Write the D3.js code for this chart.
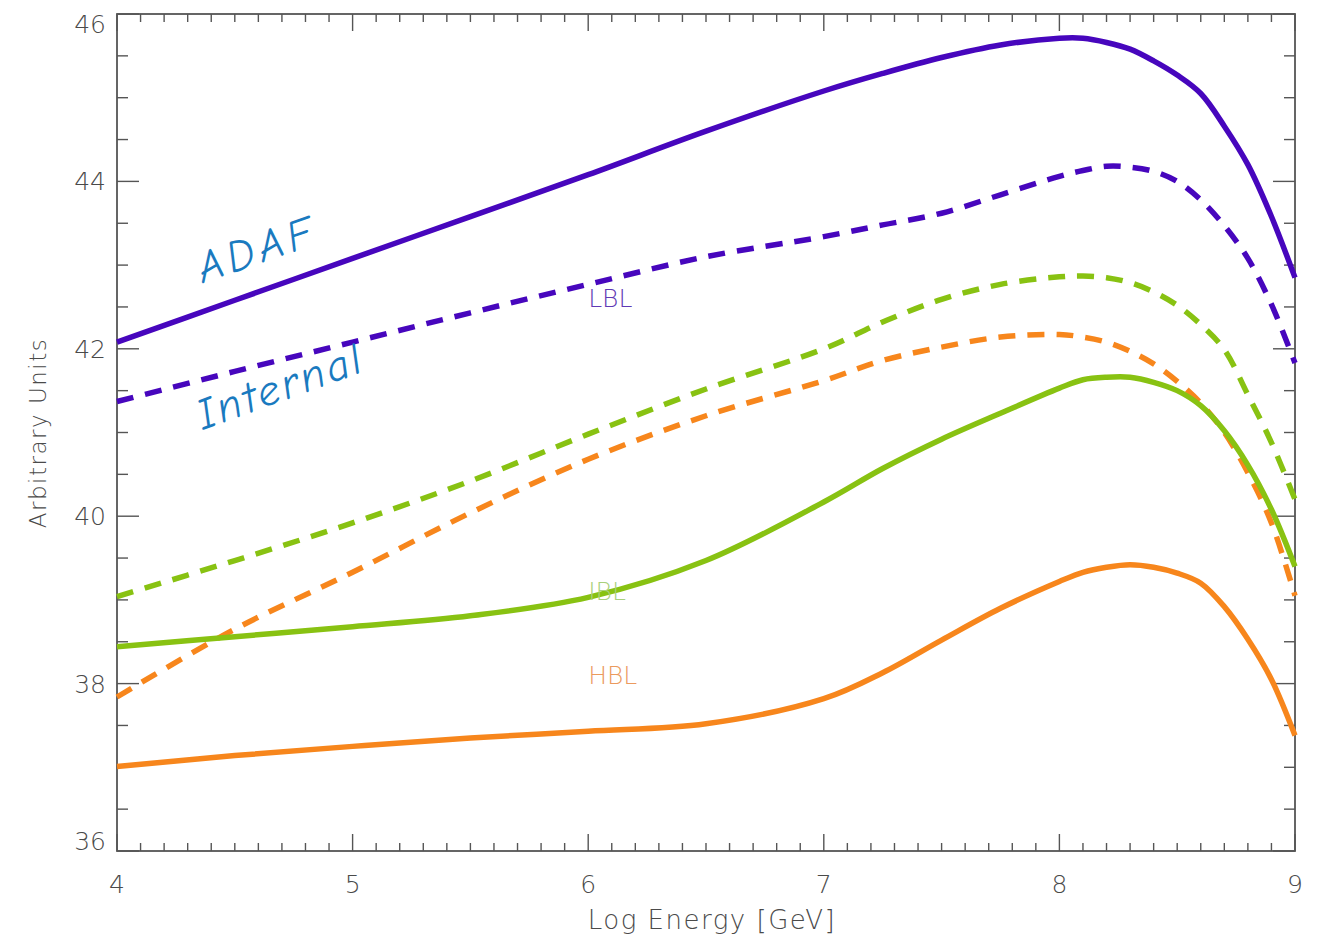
<!DOCTYPE html>
<html>
<head>
<meta charset="utf-8">
<script src="https://cdn.jsdelivr.net/npm/d3@7/dist/d3.min.js"></script>
<style>
  html, body { margin: 0; padding: 0; background: #fff; }
  svg { display: block; }
  .tick-label { font-family: "DejaVu Sans", sans-serif; font-weight: 200; fill: #4a4a4a; }
  .axis-title { font-family: "DejaVu Sans", sans-serif; font-weight: 200; fill: #4a4a4a; }
  .series-label { font-family: "DejaVu Sans", sans-serif; font-weight: 200; }
  .note { font-family: "Comic Neue", "Noto Sans", sans-serif; font-style: italic; fill: #1a7abf; }
</style>
</head>
<body>
<svg id="chart" width="1318" height="939"></svg>
<script>
// Log energy grid shared by all spectra
const logEnergy = [4.0, 4.5, 5.0, 5.5, 6.0, 6.5, 7.0, 7.25, 7.5, 7.75, 8.0, 8.1, 8.2, 8.3, 8.4, 8.5, 8.6, 8.7, 8.8, 8.9, 9.0];

// ADAF spectra (solid)
const lblAdaf = [42.08, 42.58, 43.08, 43.58, 44.08, 44.60, 45.08, 45.29, 45.48, 45.63, 45.71, 45.71, 45.66, 45.58, 45.44, 45.27, 45.05, 44.66, 44.20, 43.58, 42.85];
const iblAdaf = [38.44, 38.56, 38.68, 38.81, 39.03, 39.47, 40.17, 40.57, 40.92, 41.23, 41.53, 41.63, 41.66, 41.66, 41.60, 41.50, 41.32, 41.02, 40.61, 40.08, 39.40];
const hblAdaf = [37.01, 37.14, 37.25, 37.35, 37.43, 37.52, 37.82, 38.13, 38.52, 38.90, 39.22, 39.33, 39.39, 39.42, 39.39, 39.32, 39.20, 38.92, 38.53, 38.05, 37.38];

// Internal spectra (dashed)
const lblInternal = [41.37, 41.73, 42.08, 42.43, 42.77, 43.10, 43.34, 43.48, 43.62, 43.84, 44.06, 44.13, 44.18, 44.17, 44.12, 44.00, 43.78, 43.47, 43.08, 42.53, 41.83];
const iblInternal = [39.04, 39.47, 39.92, 40.42, 40.98, 41.52, 42.00, 42.32, 42.59, 42.77, 42.86, 42.87, 42.85, 42.79, 42.68, 42.52, 42.29, 41.99, 41.45, 40.88, 40.20];
const hblInternal = [37.84, 38.65, 39.33, 40.04, 40.68, 41.20, 41.62, 41.86, 42.02, 42.14, 42.17, 42.14, 42.08, 41.97, 41.82, 41.61, 41.35, 41.00, 40.52, 39.92, 39.05];

// Axis ticks
const xTicks = [4, 5, 6, 7, 8, 9];
const yTicks = [36, 38, 40, 42, 44, 46];

// Series labels
const labelNames = ["LBL", "IBL", "HBL"];
const labelPos = [[6, 42.5], [6, 39.0], [6, 38.0]];

const purple = "#4706bd", green = "#88c212", orange = "#f7861c";
const labelColors = ["#5f3ab5", "#a9d07c", "#eb9a5e"];

const series = [
  { values: lblAdaf, color: purple, dashed: false },
  { values: lblInternal, color: purple, dashed: true },
  { values: iblInternal, color: green, dashed: true },
  { values: hblInternal, color: orange, dashed: true },
  { values: iblAdaf, color: green, dashed: false },
  { values: hblAdaf, color: orange, dashed: false }
];

const svg = d3.select("#chart");
const plotLeft = 117, plotRight = 1295, plotTop = 14, plotBottom = 851;

const x = d3.scaleLinear().domain([4, 9]).range([plotLeft, plotRight]);
const y = d3.scaleLinear().domain([36, 46]).range([plotBottom, plotTop]);

const axisColor = "#555";
const frame = svg.append("g");

// Minor / major ticks on all four sides, pointing inward
const xMinor = d3.range(40, 91).map(v => v / 10);
xMinor.forEach(v => {
  const major = Math.abs(v - Math.round(v)) < 1e-9;
  const len = major ? 17 : 8;
  frame.append("line").attr("x1", x(v)).attr("x2", x(v)).attr("y1", plotBottom).attr("y2", plotBottom - len)
    .attr("stroke", axisColor).attr("stroke-width", 1.4);
  frame.append("line").attr("x1", x(v)).attr("x2", x(v)).attr("y1", plotTop).attr("y2", plotTop + len)
    .attr("stroke", axisColor).attr("stroke-width", 1.4);
});
const yMinor = d3.range(72, 93).map(v => v / 2);
yMinor.forEach(v => {
  const major = v % 2 === 0;
  const len = major ? 22 : 11;
  frame.append("line").attr("x1", plotLeft).attr("x2", plotLeft + len).attr("y1", y(v)).attr("y2", y(v))
    .attr("stroke", axisColor).attr("stroke-width", 1.4);
  frame.append("line").attr("x1", plotRight).attr("x2", plotRight - len).attr("y1", y(v)).attr("y2", y(v))
    .attr("stroke", axisColor).attr("stroke-width", 1.4);
});
frame.append("rect").attr("x", plotLeft).attr("y", plotTop)
  .attr("width", plotRight - plotLeft).attr("height", plotBottom - plotTop)
  .attr("fill", "none").attr("stroke", axisColor).attr("stroke-width", 1.8);

// Tick labels
svg.append("g").selectAll("text").data(xTicks).join("text")
  .attr("class", "tick-label")
  .attr("x", d => x(d)).attr("y", 893)
  .attr("text-anchor", "middle").attr("font-size", 25)
  .text(d => d);

svg.append("g").selectAll("text").data(yTicks).join("text")
  .attr("class", "tick-label")
  .attr("x", 106)
  .attr("y", d => y(d) + (d === 46 ? 19 : d === 36 ? -1 : 9))
  .attr("text-anchor", "end").attr("font-size", 25)
  .text(d => d);

// Axis titles
svg.append("text").attr("class", "axis-title")
  .attr("x", 712).attr("y", 929).attr("text-anchor", "middle")
  .attr("font-size", 26).attr("letter-spacing", 1.5)
  .text("Log Energy [GeV]");

svg.append("text").attr("class", "axis-title")
  .attr("transform", "translate(46,433) rotate(-90)")
  .attr("text-anchor", "middle").attr("font-size", 23).attr("letter-spacing", 1.5)
  .text("Arbitrary Units");

// Spectra
const line = d3.line()
  .x((d, i) => x(logEnergy[i]))
  .y(d => y(d))
  .curve(d3.curveCatmullRom.alpha(0.5));

svg.append("g").selectAll("path").data(series).join("path")
  .attr("d", d => line(d.values))
  .attr("fill", "none")
  .attr("stroke", d => d.color)
  .attr("stroke-width", 5.5)
  .attr("stroke-dasharray", d => d.dashed ? "17,12" : null);

// Series labels
svg.append("g").selectAll("text").data(labelNames).join("text")
  .attr("class", "series-label")
  .attr("x", (d, i) => x(labelPos[i][0]))
  .attr("y", (d, i) => y(labelPos[i][1]))
  .attr("font-size", 25)
  .attr("fill", (d, i) => labelColors[i])
  .text(d => d);

// Hand-written style notes
svg.append("text").attr("class", "note")
  .attr("transform", "translate(203,283) rotate(-19)")
  .attr("font-size", 44).attr("letter-spacing", 5)
  .text("ADAF");
svg.append("text").attr("class", "note")
  .attr("transform", "translate(203,430) rotate(-20)")
  .attr("font-size", 44).attr("letter-spacing", 3)
  .text("Internal");
</script>
</body>
</html>
